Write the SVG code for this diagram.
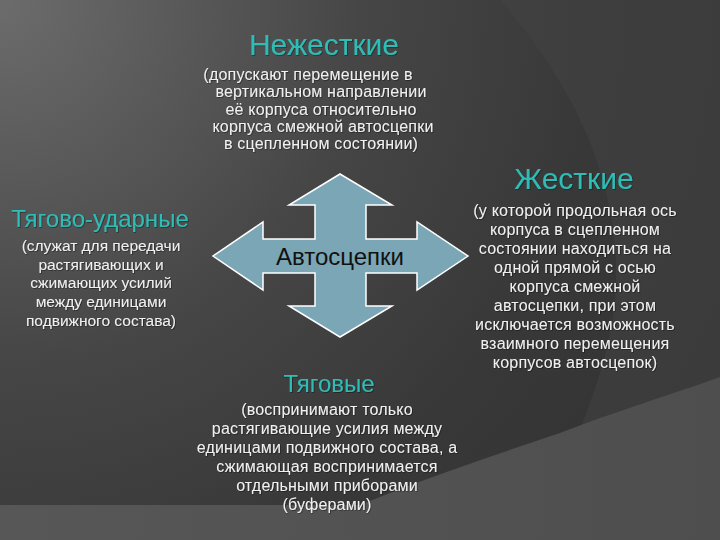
<svg xmlns="http://www.w3.org/2000/svg" width="720" height="540" viewBox="0 0 720 540">
<defs>
<radialGradient id="bg" cx="0" cy="0" r="800" gradientUnits="userSpaceOnUse">
<stop offset="0" stop-color="#6c6c6c"/>
<stop offset="0.45" stop-color="#464646"/>
<stop offset="0.75" stop-color="#383838"/>
<stop offset="1" stop-color="#333333"/>
</radialGradient>
<linearGradient id="wedge" x1="0" y1="0" x2="1" y2="0">
<stop offset="0" stop-color="#575757"/>
<stop offset="1" stop-color="#4e4e4e"/>
</linearGradient>
<filter id="sh" x="-10%" y="-10%" width="120%" height="130%">
<feDropShadow dx="0.8" dy="0.8" stdDeviation="0.5" flood-color="#000" flood-opacity="0.45"/>
</filter>
<style>
.t{font-family:"Liberation Sans",Arial,sans-serif;fill:#2fbdb6;text-anchor:middle;filter:url(#sh)}
.s{font-family:"Liberation Sans",Arial,sans-serif;fill:#f0f0f0;font-size:16px;letter-spacing:0.2px;text-anchor:middle;filter:url(#sh)}
.sl{font-size:15.5px;letter-spacing:0}
.arrow{fill:#7aa6b6;stroke:#ffffff;stroke-width:1.5;stroke-linejoin:miter}
.lbl{font-family:"Liberation Sans",Arial,sans-serif;fill:#111;font-size:24px;text-anchor:middle}
</style>
</defs>
<g id="background">
<rect width="720" height="540" fill="url(#bg)"/>
<path d="M500,0 C560,70 625,170 615,300 C610,350 595,390 580,430 L720,377 L720,0 Z" fill="#444444" opacity="0.5"/>
<path d="M0,505 L360,505 C420,480 480,460 560,433 C620,410 670,395 720,377 L720,540 L0,540 Z" fill="url(#wedge)"/>
</g>
<g id="connectors"></g>
<g id="node-center">
<path class="arrow" d="M340,174 L392,205 L366,205 L366,239 L417,239 L417,222 L468,256 L417,290 L417,273 L366,273 L366,306 L392,306 L340,337 L289,306 L315,306 L315,273 L263,273 L263,290 L213,256 L263,222 L263,239 L315,239 L315,205 L289,205 Z"/>
<text class="lbl" x="340" y="265">Автосцепки</text>
</g>
<g id="node-top">
<text class="t" x="324" y="55" font-size="30">Нежесткие</text>
<text class="s" x="308" y="80">(допускают перемещение в</text>
<text class="s" x="321" y="97">вертикальном направлении</text>
<text class="s" x="321" y="115">её корпуса относительно</text>
<text class="s" x="323" y="132">корпуса смежной автосцепки</text>
<text class="s" x="321" y="149">в сцепленном состоянии)</text>
</g>
<g id="node-right">
<text class="t" x="574" y="189" font-size="30">Жесткие</text>
<text class="s" x="575" y="216">(у которой продольная ось</text>
<text class="s" x="575" y="235">корпуса в сцепленном</text>
<text class="s" x="575" y="254">состоянии находиться на</text>
<text class="s" x="575" y="273">одной прямой с осью</text>
<text class="s" x="575" y="292">корпуса смежной</text>
<text class="s" x="575" y="311">автосцепки, при этом</text>
<text class="s" x="575" y="330">исключается возможность</text>
<text class="s" x="575" y="349">взаимного перемещения</text>
<text class="s" x="575" y="368">корпусов автосцепок)</text>
</g>
<g id="node-left">
<text class="t" x="100" y="227" font-size="24">Тягово-ударные</text>
<text class="s sl" x="101" y="251">(служат для передачи</text>
<text class="s sl" x="101" y="270">растягивающих и</text>
<text class="s sl" x="101" y="288">сжимающих усилий</text>
<text class="s sl" x="101" y="307">между единицами</text>
<text class="s sl" x="101" y="326">подвижного состава)</text>
</g>
<g id="node-bottom">
<text class="t" x="329" y="392" font-size="24">Тяговые</text>
<text class="s" x="327" y="415">(воспринимают только</text>
<text class="s" x="327" y="434">растягивающие усилия между</text>
<text class="s" x="327" y="453">единицами подвижного состава, а</text>
<text class="s" x="327" y="472">сжимающая воспринимается</text>
<text class="s" x="327" y="491">отдельными приборами</text>
<text class="s" x="327" y="510">(буферами)</text>
</g>
</svg>
